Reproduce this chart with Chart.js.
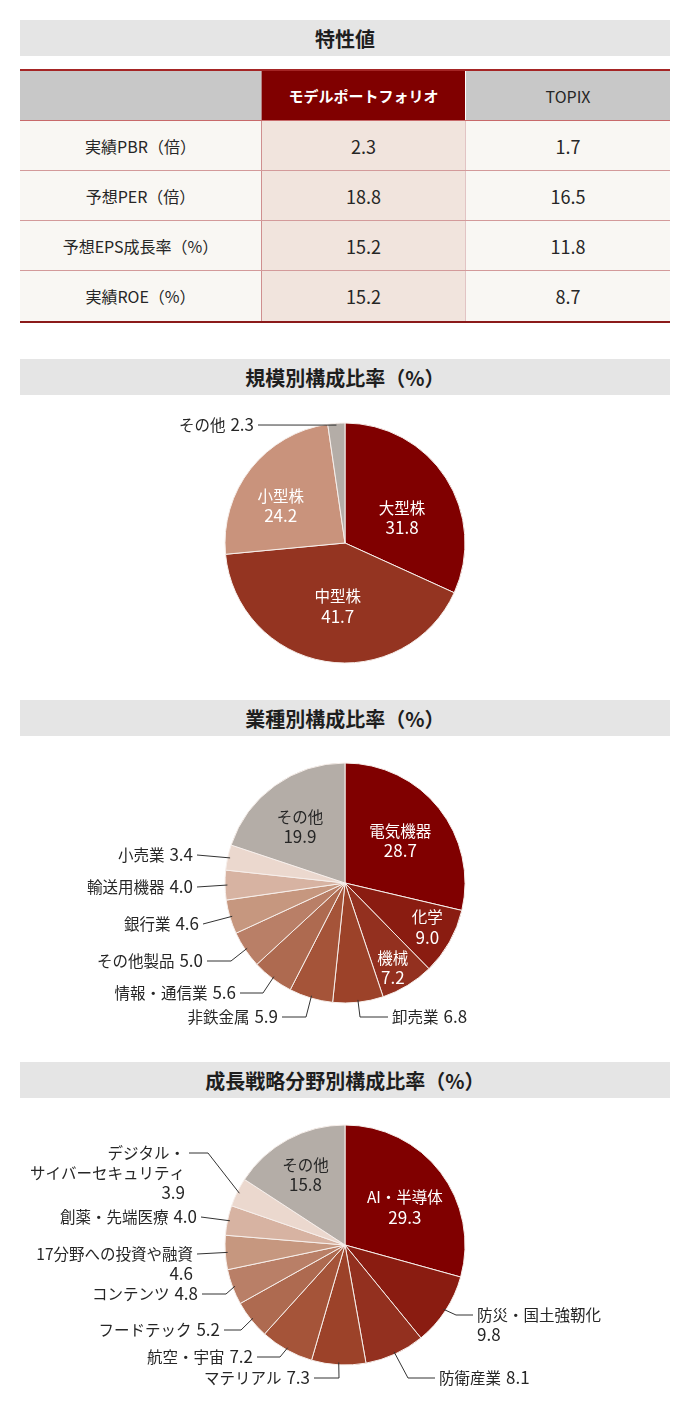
<!DOCTYPE html>
<html lang="ja">
<head>
<meta charset="utf-8">
<script src="https://cdn.jsdelivr.net/npm/chart.js@4.4.1/dist/chart.umd.min.js"></script>
<style>
  html, body { margin: 0; padding: 0; background: #fff; }
  body { width: 690px; height: 1427px; position: relative; font-family: "Noto Sans CJK JP", "Noto Sans", sans-serif; color: #262626; }
  .bar { position: absolute; left: 20px; width: 650px; height: 36px; background: #e5e5e5;
         font-size: 20px; font-weight: bold; color: #1e1e1e;
         display: flex; align-items: center; justify-content: center; }
  #tbl { position: absolute; left: 20px; top: 69px; width: 650px;
         border-top: 2px solid #a52525; border-bottom: 2px solid #8b1a1a; }
  .row { display: flex; height: 49px; border-bottom: 1px solid #d39a9a; }
  .row:last-child { height: 50px; border-bottom: none; }
  .row.head { border-bottom: 1px solid #c86a6a; }
  .c { display: flex; align-items: center; justify-content: center; font-size: 16px; }
  .num { font-size: 18px; }
  .c1 { width: 241px; background: #f9f7f3; }
  .c2 { width: 203px; background: #f1e4dd; border-left: 1px solid #cf8f8f; }
  .c3 { width: 204px; background: #f9f7f3; border-left: 1px solid #e2c4c4; }
  .head .c1, .head .c3 { background: #c8c8c8; }
  .head .c2 { background: #800000; color: #fff; font-weight: bold; font-size: 15px; border-left: 1px solid #b58080; }
  .head .c3 { border-left: 1px solid #fff; }
  canvas { position: absolute; left: 0; }
</style>
</head>
<body>
<div class="bar" style="top:20px">特性値</div>
<div id="tbl"></div>

<div class="bar" style="top:359px">規模別構成比率（%）</div>
<canvas id="pieSize" width="690" height="275" style="top:405px"></canvas>

<div class="bar" style="top:700px">業種別構成比率（%）</div>
<canvas id="pieSector" width="690" height="295" style="top:745px"></canvas>

<div class="bar" style="top:1062px">成長戦略分野別構成比率（%）</div>
<canvas id="pieTheme" width="690" height="300" style="top:1105px"></canvas>

<script>
// ---- table data ----
const metricNames = ["実績PBR（倍）", "予想PER（倍）", "予想EPS成長率（%）", "実績ROE（%）"];
const portfolioValues = ["2.3", "18.8", "15.2", "15.2"];
const topixValues = ["1.7", "16.5", "11.8", "8.7"];

// ---- pie data ----
const sizeLabels = ["大型株", "中型株", "小型株", "その他"];
const sizeValues = [31.8, 41.7, 24.2, 2.3];

const sectorLabels = ["電気機器", "化学", "機械", "卸売業", "非鉄金属", "情報・通信業",
                      "その他製品", "銀行業", "輸送用機器", "小売業", "その他"];
const sectorValues = [28.7, 9.0, 7.2, 6.8, 5.9, 5.6, 5.0, 4.6, 4.0, 3.4, 19.9];

const themeLabels = ["AI・半導体", "防災・国土強靭化", "防衛産業", "マテリアル", "航空・宇宙",
                     "フードテック", "コンテンツ", "17分野への投資や融資", "創薬・先端医療",
                     "デジタル・サイバーセキュリティ", "その他"];
const themeValues = [29.3, 9.8, 8.1, 7.3, 7.2, 5.2, 4.8, 4.6, 4.0, 3.9, 15.8];

// build the table
const tbl = document.getElementById("tbl");
let rowsHtml = '<div class="row head"><div class="c c1"></div><div class="c c2">モデルポートフォリオ</div><div class="c c3">TOPIX</div></div>';
metricNames.forEach((name, i) => {
    rowsHtml += `<div class="row"><div class="c c1">${name}</div><div class="c c2 num">${portfolioValues[i]}</div><div class="c c3 num">${topixValues[i]}</div></div>`;
});
tbl.innerHTML = rowsHtml;

const FAM = '"Noto Sans CJK JP", "Noto Sans", sans-serif';
const NAME_FONT = "15.5px " + FAM;
const NUM_FONT = "17px " + FAM;
const TXT = "#262626";
const GRAY = "#b4ada7";
const SHADES = ["#800000", "#8a1c11", "#93301f", "#9c4229", "#a55439", "#ae6a50",
                "#b97f67", "#c6977f", "#d7b3a2", "#ebd8ce", GRAY];

// draw one text line; numbers get a slightly larger font than names
function drawLine(ctx, s, x, y, align) {
    const isNum = /^[\d.]+$/.test(s);
    ctx.font = isNum ? NUM_FONT : NAME_FONT;
    ctx.textAlign = align;
    ctx.fillText(s, x, y);
}

// name and value on one line, with a gap between them
function drawPair(ctx, name, val, x, y, align) {
    const gap = 5;
    ctx.font = NAME_FONT;
    const nw = ctx.measureText(name).width;
    ctx.font = NUM_FONT;
    const vw = ctx.measureText(val).width;
    const left = align === "left" ? x : x - (nw + gap + vw);
    ctx.textAlign = "left";
    ctx.font = NAME_FONT;
    ctx.fillText(name, left, y);
    ctx.font = NUM_FONT;
    ctx.fillText(val, left + nw + gap, y);
}

// label drawing: inside labels sit on the slice, outside ones get a leader line
const sliceLabels = {
    id: "sliceLabels",
    afterDatasetsDraw(chart, args, opts) {
        const ctx = chart.ctx;
        const meta = chart.getDatasetMeta(0);
        const labels = chart.data.labels;
        const values = chart.data.datasets[0].data;
        ctx.save();
        ctx.textBaseline = "middle";
        opts.place.forEach((p, i) => {
            const arc = meta.data[i];
            const { x, y, startAngle, endAngle, outerRadius } =
                arc.getProps(["x", "y", "startAngle", "endAngle", "outerRadius"], true);
            const mid = (startAngle + endAngle) / 2;
            const val = values[i].toFixed(1);
            if (p.inside) {
                const a = mid + (p.da || 0) * Math.PI / 180;
                const r = outerRadius * p.frac;
                const lx = x + Math.cos(a) * r, ly = y + Math.sin(a) * r;
                ctx.fillStyle = p.color || "#fff";
                drawLine(ctx, labels[i], lx, ly - 10, "center");
                drawLine(ctx, val, lx, ly + 10, "center");
                return;
            }
            const sr = outerRadius * (p.r || 0.98);
            const sx = x + Math.cos(mid) * sr, sy = y + Math.sin(mid) * sr;
            const tx = x + p.at[0], ty = y + p.at[1];
            ctx.strokeStyle = "#333";
            ctx.lineWidth = 1;
            ctx.beginPath();
            ctx.moveTo(sx, sy);
            if (p.elbow) ctx.lineTo(x + p.elbow[0], y + p.elbow[1]);
            ctx.lineTo(tx, ty);
            ctx.stroke();

            const name = labels[i];
            const gx = p.align === "left" ? tx + 4 : tx - 4;
            ctx.fillStyle = TXT;
            if (p.wrap || p.valueLine) {
                const lines = p.wrap ? [name.slice(0, p.wrap), name.slice(p.wrap), val] : [name, val];
                lines.forEach((s, k) => drawLine(ctx, s, gx, ty + k * 20, p.align));
            } else {
                drawPair(ctx, name, val, gx, ty, p.align);
            }
        });
        ctx.restore();
    }
};

function makePie(id, labels, values, colors, pad, place) {
    return new Chart(document.getElementById(id), {
        type: "pie",
        data: {
            labels,
            datasets: [{
                data: values,
                backgroundColor: colors,
                borderColor: "#f6eeea",
                borderWidth: 1
            }]
        },
        options: {
            responsive: false,
            animation: false,
            radius: 120,
            layout: { padding: pad },
            plugins: {
                legend: { display: false },
                tooltip: { enabled: false },
                sliceLabels: { place }
            }
        },
        plugins: [sliceLabels]
    });
}

makePie("pieSize", sizeLabels, sizeValues,
    ["#800000", "#943421", "#c9937c", GRAY],
    { top: 18, bottom: 17, left: 0, right: 0 },
    [
        { inside: true, frac: 0.52, da: 9 },
        { inside: true, frac: 0.53, da: -3 },
        { inside: true, frac: 0.62, da: -8 },
        { r: 0.985, at: [-87, -118], align: "right" }
    ]);

makePie("pieSector", sectorLabels, sectorValues, SHADES,
    { top: 18, bottom: 37, left: 0, right: 0 },
    [
        { inside: true, frac: 0.58, da: 1 },
        { inside: true, frac: 0.78, da: -1 },
        { inside: true, frac: 0.81, da: 2 },
        { elbow: [15, 134], at: [43, 134], align: "left" },
        { elbow: [-39, 134], at: [-63, 134], align: "right" },
        { elbow: [-82, 110], at: [-105, 110], align: "right" },
        { elbow: [-114, 78], at: [-138, 78], align: "right" },
        { at: [-142, 41], align: "right" },
        { at: [-148, 4], align: "right" },
        { at: [-148, -28], align: "right" },
        { inside: true, frac: 0.6, da: -3, color: TXT }
    ]);

makePie("pieTheme", themeLabels, themeValues, SHADES,
    { top: 20, bottom: 40, left: 0, right: 0 },
    [
        { inside: true, frac: 0.59, da: 5 },
        { elbow: [111, 70], at: [128, 70], align: "left", valueLine: true },
        { elbow: [63, 133], at: [90, 133], align: "left" },
        { elbow: [-6, 133], at: [-31, 133], align: "right" },
        { elbow: [-65, 112], at: [-88, 112], align: "right" },
        { elbow: [-104, 85], at: [-121, 85], align: "right" },
        { elbow: [-119, 49], at: [-143, 49], align: "right" },
        { at: [-148, 9], align: "right", valueLine: true },
        { at: [-144, -28], align: "right" },
        { elbow: [-137, -92], at: [-156, -92], align: "right", wrap: 5 },
        { inside: true, frac: 0.67, da: -1, color: TXT }
    ]);
</script>
</body>
</html>
